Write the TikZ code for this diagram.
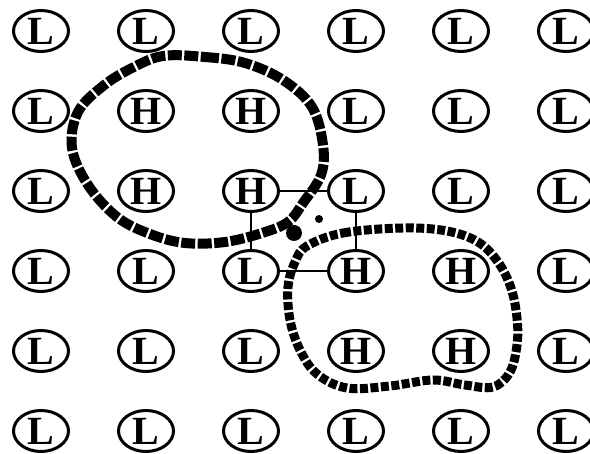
\documentclass[tikz,border=0pt]{standalone}
\usepackage{fontspec}
\setmainfont{Liberation Serif}
\usetikzlibrary{positioning,shapes.geometric}
\definecolor{inkc}{HTML}{000000}
\tikzset{
  site/.style  ={ellipse,draw=inkc,line width=3pt,fill=white,minimum width=55pt,
                 minimum height=41pt,inner sep=0pt,outer sep=0pt,
                 font=\fontsize{40}{40}\selectfont\bfseries,text=inkc},
  bond/.style  ={draw=inkc,line width=2pt},
  loopA/.style ={draw=inkc,line width=10pt,dash pattern=on 14pt off 2.5pt},
  loopB/.style ={draw=inkc,line width=9pt,dash pattern=on 8pt off 2.5pt},
  spot/.style  ={fill=inkc},
}

\begin{document}
\begin{tikzpicture}[x=1pt,y=-1pt,node distance=39pt and 50pt]
\useasboundingbox (0,0) rectangle (590,454);

% ============================ sites =====================================
\node[site] (s11) at (41,31) {L};
\node[site,right=of s11] (s12) {L}; \node[site,right=of s12] (s13) {L};
\node[site,right=of s13] (s14) {L}; \node[site,right=of s14] (s15) {L};
\node[site,right=of s15] (s16) {L};

\node[site,below=of s11] (s21) {L};
\node[site,right=of s21] (s22) {H}; \node[site,right=of s22] (s23) {H};
\node[site,right=of s23] (s24) {L}; \node[site,right=of s24] (s25) {L};
\node[site,right=of s25] (s26) {L};

\node[site,below=of s21] (s31) {L};
\node[site,right=of s31] (s32) {H}; \node[site,right=of s32] (s33) {H};
\node[site,right=of s33] (s34) {L}; \node[site,right=of s34] (s35) {L};
\node[site,right=of s35] (s36) {L};

\node[site,below=of s31] (s41) {L};
\node[site,right=of s41] (s42) {L}; \node[site,right=of s42] (s43) {L};
\node[site,right=of s43] (s44) {H}; \node[site,right=of s44] (s45) {H};
\node[site,right=of s45] (s46) {L};

\node[site,below=of s41] (s51) {L};
\node[site,right=of s51] (s52) {L}; \node[site,right=of s52] (s53) {L};
\node[site,right=of s53] (s54) {H}; \node[site,right=of s54] (s55) {H};
\node[site,right=of s55] (s56) {L};

\node[site,below=of s51] (s61) {L};
\node[site,right=of s61] (s62) {L}; \node[site,right=of s62] (s63) {L};
\node[site,right=of s63] (s64) {L}; \node[site,right=of s64] (s65) {L};
\node[site,right=of s65] (s66) {L};

% ============================ plaquette =================================
\draw[bond](s33)--(s34); \draw[bond](s33)--(s43);
\draw[bond](s34)--(s44); \draw[bond](s43)--(s44);

% ============================ loops =====================================
\draw[loopA] plot[smooth cycle,tension=0.6] coordinates
  {(163,56) (205,57) (245,63) (283,80) (312,107) (323,145) (321,175)
   (303,203) (288,222) (262,233) (225,242) (185,243) (150,234) (117,217)
   (88,185) (72,148) (78,112) (103,86) (132,68)};
\draw[loopB] plot[smooth cycle,tension=0.6] coordinates
  {(307,246) (343,233) (403,228) (447,231) (478,242) (498,262) (511,288)
   (517,318) (517,345) (510,372) (493,387) (465,385) (433,380) (390,386)
   (347,388) (317,374) (300,350) (290,320) (288,287) (295,262)};
\fill[spot] (294,233) circle (8pt);
\fill[spot] (319,219) circle (4pt);
\end{tikzpicture}
\end{document}
